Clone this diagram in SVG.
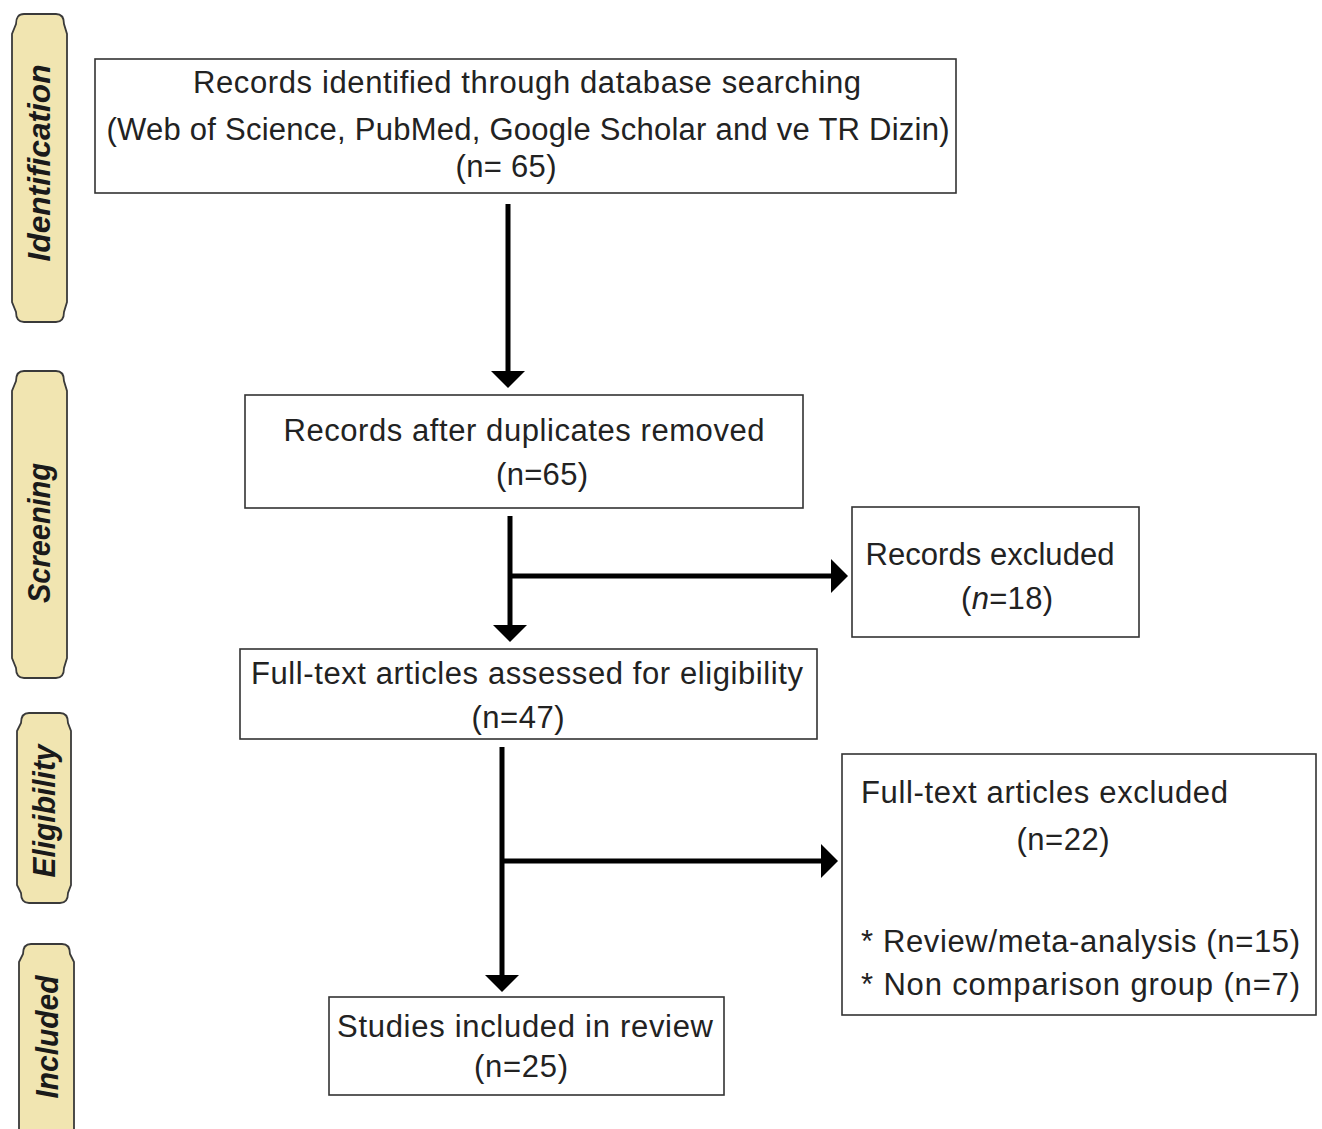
<svg xmlns="http://www.w3.org/2000/svg" width="1322" height="1129" viewBox="0 0 1322 1129">
<style>
.box{fill:#fff;stroke:#333;stroke-width:1.6}
.t{font-family:"Liberation Sans",Arial,sans-serif;font-size:31px;fill:#222}
.m{text-anchor:middle}
.side{fill:#f1e5b1;stroke:#3a3a3a;stroke-width:1.8}
.st{font-family:"Liberation Sans",Arial,sans-serif;font-size:31px;font-weight:bold;font-style:italic;fill:#1a1a1a;text-anchor:middle}
.ln{stroke:#000;stroke-width:5;fill:none}
.ah{fill:#000}
</style>
<rect width="1322" height="1129" fill="#fff"/>

<g id="stage-identification">
<path class="side" d="M24 14 H56 Q64 14 64 24 L67 34 V302 L64 312 Q64 322 56 322 H24 Q16 322 16 312 L12 302 V34 L16 24 Q16 14 24 14 Z"/>
<text class="st" transform="translate(50 163) rotate(-90)" textLength="197" lengthAdjust="spacingAndGlyphs">Identification</text>
</g>
<g id="stage-screening">
<path class="side" d="M24 371 H56 Q64 371 64 381 L67 391 V658 L64 668 Q64 678 56 678 H24 Q16 678 16 668 L12 658 V391 L16 381 Q16 371 24 371 Z"/>
<text class="st" transform="translate(50 533) rotate(-90)" textLength="140" lengthAdjust="spacingAndGlyphs">Screening</text>
</g>
<g id="stage-eligibility">
<path class="side" d="M29 713 H60 Q68 713 68 723 L71 731 V885 L68 893 Q68 903 60 903 H29 Q21 903 21 893 L17 885 V731 L21 723 Q21 713 29 713 Z"/>
<text class="st" transform="translate(55 811) rotate(-90)" textLength="133" lengthAdjust="spacingAndGlyphs">Eligibility</text>
</g>
<g id="stage-included">
<path class="side" d="M31 944 H62 Q70 944 70 954 L74 962 V1140 H19 V962 L23 954 Q23 944 31 944 Z"/>
<text class="st" transform="translate(58 1037) rotate(-90)" textLength="123" lengthAdjust="spacingAndGlyphs">Included</text>
</g>

<g id="connectors">
<line class="ln" x1="508" y1="204" x2="508" y2="374"/>
<polygon class="ah" points="491,371 525,371 508,388"/>
<line class="ln" x1="510" y1="516" x2="510" y2="628"/>
<polygon class="ah" points="493,625 527,625 510,642"/>
<line class="ln" x1="510" y1="576" x2="834" y2="576"/>
<polygon class="ah" points="831,559 831,593 848,576"/>
<line class="ln" x1="502" y1="747" x2="502" y2="978"/>
<polygon class="ah" points="485,975 519,975 502,992"/>
<line class="ln" x1="502" y1="861" x2="824" y2="861"/>
<polygon class="ah" points="821,844 821,878 838,861"/>
</g>

<g id="node-identified">
<rect class="box" x="95" y="59" width="861" height="134"/>
<text class="t m" x="527" y="93" textLength="668">Records identified through database searching</text>
<text class="t m" x="528" y="140" textLength="843">(Web of Science, PubMed, Google Scholar and ve TR Dizin)</text>
<text class="t m" x="506" y="177" textLength="101">(n= 65)</text>
</g>

<g id="node-duplicates">
<rect class="box" x="245" y="395" width="558" height="113"/>
<text class="t m" x="524" y="441" textLength="481">Records after duplicates removed</text>
<text class="t m" x="542" y="485" textLength="92">(n=65)</text>
</g>

<g id="node-records-excluded">
<rect class="box" x="852" y="507" width="287" height="130"/>
<text class="t m" x="990" y="565" textLength="249">Records excluded</text>
<text class="t m" x="1007" y="609" textLength="92">(<tspan font-style="italic">n</tspan>=18)</text>
</g>

<g id="node-fulltext">
<rect class="box" x="240" y="649" width="577" height="90"/>
<text class="t m" x="527" y="684" textLength="552">Full-text articles assessed for eligibility</text>
<text class="t m" x="518" y="728" textLength="93">(n=47)</text>
</g>

<g id="node-fulltext-excluded">
<rect class="box" x="842" y="754" width="474" height="261"/>
<text class="t" x="861" y="803" textLength="367">Full-text articles excluded</text>
<text class="t m" x="1063" y="850" textLength="93">(n=22)</text>
<text class="t" x="861" y="952" textLength="439">* Review/meta-analysis (n=15)</text>
<text class="t" x="861" y="995" textLength="439">* Non comparison group (n=7)</text>
</g>

<g id="node-included">
<rect class="box" x="329" y="997" width="395" height="98"/>
<text class="t m" x="525" y="1037" textLength="376">Studies included in review</text>
<text class="t m" x="521" y="1077" textLength="94">(n=25)</text>
</g>
</svg>
